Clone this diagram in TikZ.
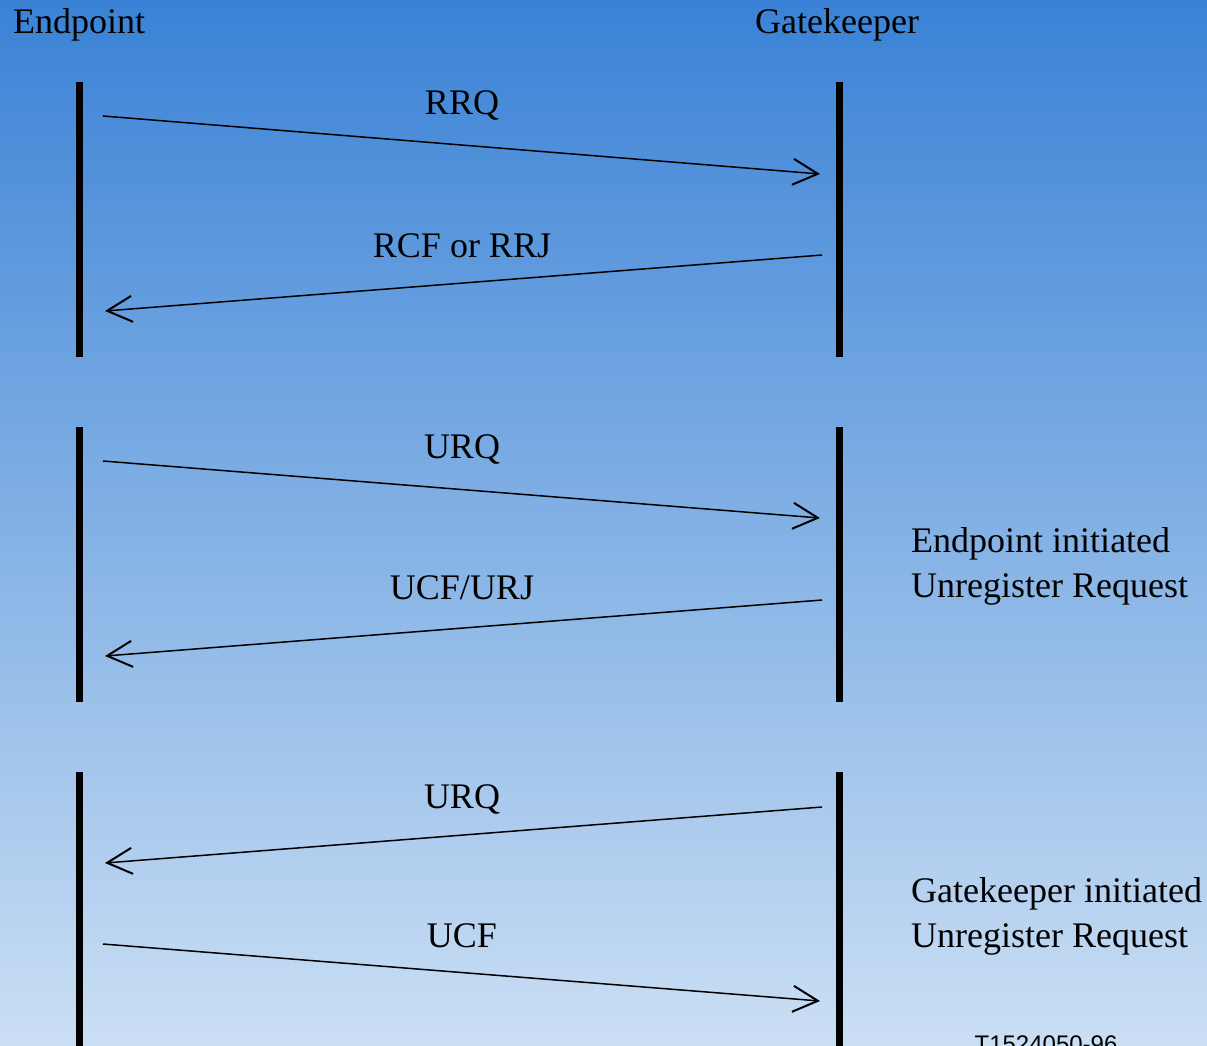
\documentclass[tikz,border=0pt]{standalone}
\usepackage{fontspec}
\setmainfont{Liberation Serif}
\newfontfamily\reffont{Liberation Sans}
\usetikzlibrary{arrows.meta}

\definecolor{fondhaut}{RGB}{58,130,214}
\definecolor{fondbas}{RGB}{203,223,244}

\tikzset{
  vie/.style={line width=7pt},
  msg/.style={line width=1.5pt,-{Straight Barb[length=25pt,width=26pt,line width=2pt]}},
  txt/.style={font=\fontsize{36}{43}\selectfont,inner sep=0pt,anchor=base},
  note/.style={txt,anchor=base west}
}

\begin{document}
\begin{tikzpicture}[x=1pt,y=-1pt]
  \useasboundingbox (0,0) rectangle (1207,1045);
  \shade[top color=fondhaut,bottom color=fondbas] (0,0) rectangle (1207,1045); %fond

  % titres
  \node[txt,anchor=base west] (ep) at (13,33) {Endpoint};
  \node[txt,anchor=base west] (gk) at (755,33) {Gatekeeper};

  % lignes de vie
  \draw[vie] (79,82) -- (79,357);   \draw[vie] (839,82) -- (839,357);
  \draw[vie] (79,427) -- (79,702);  \draw[vie] (839,427) -- (839,702);
  \draw[vie] (79,772) -- (79,1050); \draw[vie] (839,772) -- (839,1050);

  % extremites des messages
  \coordinate (e1) at (103,116);  \coordinate (g1) at (820,174);
  \coordinate (g2) at (822,255);  \coordinate (e2) at (105,311);
  \coordinate (e3) at (103,461);  \coordinate (g3) at (820,518);
  \coordinate (g4) at (822,600);  \coordinate (e4) at (105,656);
  \coordinate (g5) at (822,807);  \coordinate (e5) at (105,863);
  \coordinate (e6) at (103,944);  \coordinate (g6) at (820,1001);

  \draw[msg] (e1) -- (g1); \node[txt] (rrq) at (462,114.5) {RRQ};
  \draw[msg] (g2) -- (e2); \node[txt] (rcf) at (462,257.5) {RCF or RRJ};
  \draw[msg] (e3) -- (g3); \node[txt] (urq) at (462,458.5) {URQ};
  \draw[msg] (g4) -- (e4); \node[txt] (ucfurj) at (462,599.5) {UCF/URJ};
  \draw[msg] (g5) -- (e5); \node[txt] (urqgk) at (462,808.5) {URQ};
  \draw[msg] (e6) -- (g6); \node[txt] (ucf) at (462,947.5) {UCF};

  % notes a droite
  \node[note] (n1) at (911,552) {Endpoint initiated};
  \node[note] (n2) at (911,597) {Unregister Request};
  \node[note] (n3) at (911,902) {Gatekeeper initiated};
  \node[note] (n4) at (911,947) {Unregister Request};

  \node[inner sep=0pt,anchor=base,font=\reffont\fontsize{24}{28}\selectfont] (ref) at (1046,1052) {T1524050-96};
\end{tikzpicture}
\end{document}
